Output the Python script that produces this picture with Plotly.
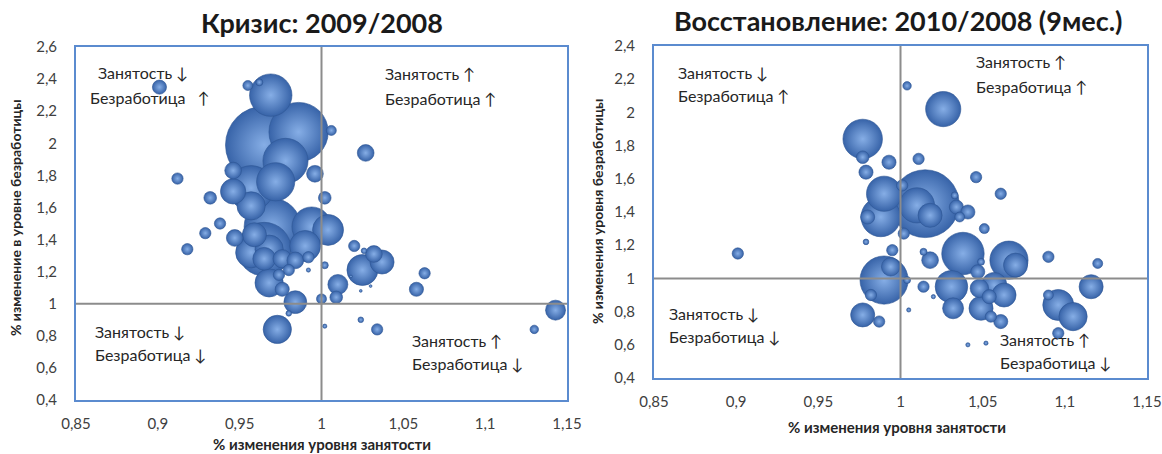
import plotly.graph_objects as go

# ---------------- data ----------------
x_tickvals = [0.85, 0.9, 0.95, 1.0, 1.05, 1.1, 1.15]
x_ticktext = ["0,85", "0,9", "0,95", "1", "1,05", "1,1", "1,15"]
y1_tickvals = [0.4, 0.6, 0.8, 1.0, 1.2, 1.4, 1.6, 1.8, 2.0, 2.2, 2.4, 2.6]
y1_ticktext = ["0,4", "0,6", "0,8", "1", "1,2", "1,4", "1,6", "1,8", "2", "2,2", "2,4", "2,6"]
y2_tickvals = [0.4, 0.6, 0.8, 1.0, 1.2, 1.4, 1.6, 1.8, 2.0, 2.2, 2.4]
y2_ticktext = ["0,4", "0,6", "0,8", "1", "1,2", "1,4", "1,6", "1,8", "2", "2,2", "2,4"]

# Crisis 2009/2008: employment change, unemployment change, bubble weight
crisis_emp = [0.901, 0.955, 0.962, 0.969, 0.965, 0.986, 0.978, 1.006, 1.027, 0.912,
              0.946, 0.996, 0.972, 0.957, 0.946, 0.932, 1.002, 0.957, 0.938, 0.929,
              0.970, 0.994, 1.004, 0.947, 0.959, 0.918, 0.965, 0.990, 0.957, 0.968,
              0.965, 0.976, 0.984, 0.992, 0.980, 0.992, 1.002, 0.974, 0.968, 0.976,
              0.984, 1.000, 0.980, 0.973, 1.002, 1.020, 1.026, 1.032, 1.037, 1.025,
              1.063, 1.010, 1.058, 1.009, 1.143, 1.024, 1.034, 1.130, 1.018, 1.030,
              1.024]
crisis_unemp = [2.35, 2.36, 2.38, 2.30, 1.99, 2.07, 1.89, 2.08, 1.94, 1.78,
                1.83, 1.81, 1.76, 1.72, 1.70, 1.66, 1.66, 1.61, 1.50, 1.44,
                1.48, 1.48, 1.46, 1.41, 1.43, 1.34, 1.34, 1.36, 1.32, 1.34,
                1.28, 1.28, 1.27, 1.29, 1.21, 1.21, 1.24, 1.18, 1.13, 1.09,
                1.01, 1.03, 0.94, 0.84, 0.86, 1.36, 1.33, 1.31, 1.26, 1.21,
                1.19, 1.12, 1.09, 1.04, 0.96, 0.90, 0.84, 0.84, 1.17, 1.11,
                1.08]
crisis_weight = [10, 5, 2.5, 90, 300, 176, 102, 5, 14, 6.4,
                 14, 14, 73, 102, 32, 8, 8, 40, 6.4, 6.4,
                 160, 78, 48, 14, 29, 6.4, 144, 48, 48, 40,
                 26, 17, 14, 6.4, 6.4, 0.9, 2.5, 6.4, 40, 10,
                 26, 5, 1.6, 40, 0.9, 6.4, 1.6, 14, 29, 48,
                 6.4, 20, 10, 8, 20, 1.6, 6.4, 3.6, 0.4, 0.4,
                 0.4]

# Recovery 2010/2008 (9 months)
recov_emp = [0.901, 1.004, 1.026, 0.977, 0.977, 0.993, 1.011, 0.979, 1.046, 1.061,
             0.990, 1.001, 1.015, 1.010, 1.018, 1.033, 1.034, 1.041, 1.036, 0.988,
             0.980, 1.051, 1.002, 0.979, 0.995, 1.014, 1.018, 1.038, 1.049, 1.066,
             1.070, 1.090, 1.120, 0.990, 0.994, 1.004, 1.014, 1.031, 1.047, 1.048,
             1.057, 1.063, 1.054, 1.032, 1.049, 1.055, 1.061, 1.020, 1.005, 1.041,
             1.052, 1.096, 1.090, 1.105, 1.116, 1.096, 0.977, 0.987, 0.982]
recov_unemp = [1.15, 2.16, 2.02, 1.84, 1.73, 1.70, 1.72, 1.64, 1.61, 1.51,
               1.51, 1.56, 1.45, 1.44, 1.38, 1.50, 1.43, 1.40, 1.37, 1.37,
               1.37, 1.30, 1.27, 1.22, 1.17, 1.16, 1.11, 1.15, 1.10, 1.11,
               1.08, 1.13, 1.09, 0.99, 1.07, 0.99, 0.95, 0.95, 1.04, 0.94,
               0.96, 0.90, 0.89, 0.82, 0.82, 0.77, 0.74, 0.89, 0.81, 0.60,
               0.61, 0.84, 0.90, 0.77, 0.95, 0.67, 0.78, 0.74, 0.90]
recov_weight = [6.4, 3.6, 62, 78, 8, 10, 6.4, 10, 6.4, 6.4,
                62, 6.4, 230, 62, 29, 2.5, 10, 10, 5, 78,
                10, 5, 6.4, 1.6, 6.4, 2.5, 14, 90, 2.5, 73,
                29, 6.4, 5, 116, 17, 2.5, 6.4, 53, 10, 17,
                32, 29, 10, 22, 29, 6.4, 10, 0.9, 0.9, 0.9,
                0.9, 48, 5, 40, 29, 6.4, 29, 6.4, 6.4]

titles = ["Кризис: 2009/2008", "Восстановление: 2010/2008 (9мес.)"]
x_title = "% изменения уровня занятости"
y_titles = ["% изменение в уровне безработицы", "% изменения уровня безработицы"]
quad_up = "Занятость ↑"
quad_down = "Занятость ↓"
unemp_up = "Безработица ↑"
unemp_down = "Безработица ↓"

# ---------------- figure ----------------
W, H = 1162, 454
FONT = "Lato, 'Open Sans', 'DejaVu Sans', sans-serif"
TXT = "#262626"
TICK = "#404040"
BOX = "#5B8BCF"
CROSS = "#8C8C8C"


def px(v):
    return v / W


def py(v):
    return 1 - v / H


def sorted_points(xs, ys, ws):
    pts = sorted(zip(xs, ys, ws), key=lambda p: -p[2])
    return [p[0] for p in pts], [p[1] for p in pts], [p[2] for p in pts]


fig = go.Figure()

for i, (xs, ys, ws) in enumerate([(crisis_emp, crisis_unemp, crisis_weight),
                                  (recov_emp, recov_unemp, recov_weight)]):
    sx, sy, sw = sorted_points(xs, ys, ws)
    fig.add_trace(go.Scatter(
        x=sx, y=sy, mode="markers",
        xaxis="x" if i == 0 else "x2", yaxis="y" if i == 0 else "y2",
        marker=dict(size=sw, sizemode="area", sizeref=0.1,
                    color="#3763A8",
                    gradient=dict(type="radial", color="#86AEE6"),
                    line=dict(width=0.6, color="#2D5594"), opacity=1),
        showlegend=False, hoverinfo="x+y"))

axis_common = dict(showgrid=False, zeroline=False, showline=True, mirror=True,
                   linecolor=BOX, linewidth=2, ticks="", automargin=False,
                   ticklabeloverflow="allow",
                   tickfont=dict(family=FONT, size=15, color=TICK))

L_dom_x = [px(76), px(567)]
L_dom_y = [py(400), py(47)]
R_dom_x = [px(654), px(1147)]
R_dom_y = [py(378), py(46)]

fig.update_layout(
    template="none",
    width=W, height=H,
    margin=dict(l=0, r=0, t=0, b=0, pad=0, autoexpand=False),
    paper_bgcolor="white", plot_bgcolor="white",
    font=dict(family=FONT, color=TXT),
    xaxis=dict(domain=L_dom_x, range=[0.85, 1.15], tickvals=x_tickvals, ticktext=x_ticktext,
               anchor="y", ticklabelstandoff=9, **axis_common),
    yaxis=dict(domain=L_dom_y, range=[0.4, 2.6], tickvals=y1_tickvals, ticktext=y1_ticktext,
               anchor="x", ticklabelstandoff=14, **axis_common),
    xaxis2=dict(domain=R_dom_x, range=[0.85, 1.15], tickvals=x_tickvals, ticktext=x_ticktext,
                anchor="y2", ticklabelstandoff=9, **axis_common),
    yaxis2=dict(domain=R_dom_y, range=[0.4, 2.4], tickvals=y2_tickvals, ticktext=y2_ticktext,
                anchor="x2", ticklabelstandoff=14, **axis_common),
)

# crosshair lines at 1
for xr, yr in [("x", "y"), ("x2", "y2")]:
    fig.add_shape(type="line", xref=xr, yref=yr + " domain", x0=1, x1=1, y0=0, y1=1,
                  line=dict(color=CROSS, width=2), layer="above")
    fig.add_shape(type="line", xref=xr + " domain", yref=yr, x0=0, x1=1, y0=1, y1=1,
                  line=dict(color=CROSS, width=2), layer="above")

ann = []
# titles
ann.append(dict(text="<b>" + titles[0] + "</b>", x=px(322), y=py(22), xref="paper", yref="paper",
                showarrow=False, xanchor="center", yanchor="middle",
                font=dict(family=FONT, size=27, color="#1a1a1a")))
ann.append(dict(text="<b>" + titles[1] + "</b>", x=px(898), y=py(20), xref="paper", yref="paper",
                showarrow=False, xanchor="center", yanchor="middle",
                font=dict(family=FONT, size=27, color="#1a1a1a")))
# axis titles
ann.append(dict(text="<b>" + x_title + "</b>", x=px(322), y=py(444), xref="paper", yref="paper",
                showarrow=False, xanchor="center", yanchor="middle",
                font=dict(family=FONT, size=15, color=TXT)))
ann.append(dict(text="<b>" + x_title + "</b>", x=px(897), y=py(427), xref="paper", yref="paper",
                showarrow=False, xanchor="center", yanchor="middle",
                font=dict(family=FONT, size=15, color=TXT)))
ann.append(dict(text="<b>" + y_titles[0] + "</b>", x=px(16), y=py(218), xref="paper", yref="paper",
                showarrow=False, xanchor="center", yanchor="middle", textangle=-90,
                font=dict(family=FONT, size=14, color=TXT)))
ann.append(dict(text="<b>" + y_titles[1] + "</b>", x=px(597), y=py(212), xref="paper", yref="paper",
                showarrow=False, xanchor="center", yanchor="middle", textangle=-90,
                font=dict(family=FONT, size=14, color=TXT)))

# quadrant labels: (text, x, y)
quad = [
    (quad_down, 96, 72), ("Безработица   ↑", 88, 97),
    (quad_up, 383, 74), (unemp_up, 383, 98),
    (quad_down, 93, 331), (unemp_down, 93, 354),
    (quad_up, 410, 340), (unemp_down, 410, 363),
    (quad_down, 676, 72), (unemp_up, 676, 96),
    (quad_up, 974, 62), (unemp_up, 974, 86),
    (quad_down, 667, 313), (unemp_down, 667, 336),
    (quad_up, 998, 339), (unemp_down, 998, 362),
]
for t, qx, qy in quad:
    ann.append(dict(text=t, x=px(qx), y=py(qy), xref="paper", yref="paper",
                    showarrow=False, xanchor="left", yanchor="middle",
                    font=dict(family=FONT, size=16, color=TXT)))

fig.update_layout(annotations=ann)

fig.write_html(
    "out.html",
    config={"displayModeBar": False},
    post_script="document.body.style.margin='0';document.body.style.overflow='hidden';",
)
